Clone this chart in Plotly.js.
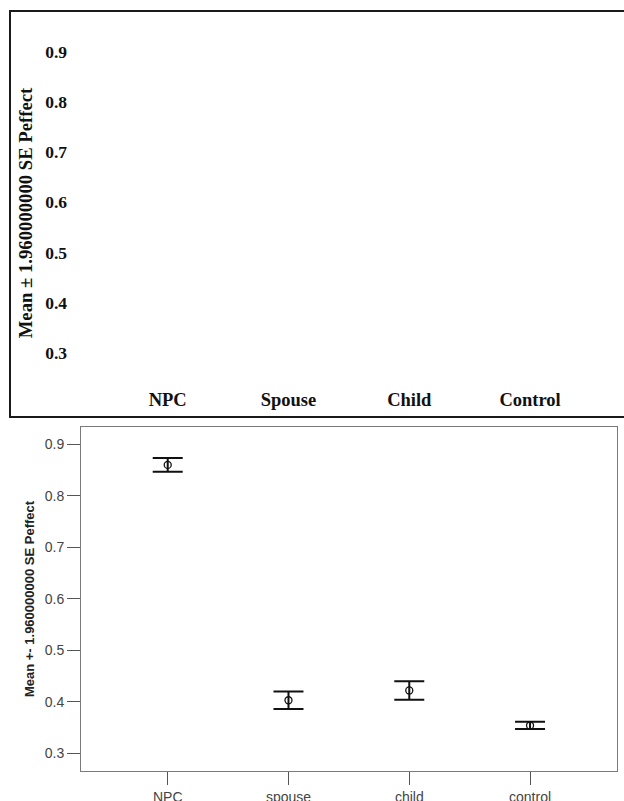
<!DOCTYPE html>
<html>
<head>
<meta charset="utf-8">
<script src="https://cdn.plot.ly/plotly-3.0.1.min.js"></script>
<style>html,body{margin:0;padding:0;background:#fff;}#chart{width:624px;height:801px;}</style>
</head>
<body>
<div id="chart"></div>
<script>
// Bottom chart data
const categories = ['NPC', 'spouse', 'child', 'control'];
const means = [0.860, 0.403, 0.422, 0.354];
const halfCI = [0.0135, 0.017, 0.018, 0.007];
const yTicks = [0.3, 0.4, 0.5, 0.6, 0.7, 0.8, 0.9];
const yTitleBottom = 'Mean +- 1.960000000 SE Peffect';

// Top (label-only) panel
const topCategories = ['NPC', 'Spouse', 'Child', 'Control'];
const topTickLabels = ['0.3', '0.4', '0.5', '0.6', '0.7', '0.8', '0.9'];
const yTitleTop = 'Mean \u00b1 1.960000000 SE Peffect';

const W = 624, H = 801;
const M = {l: 81, r: 7, t: 10, b: 30};
const plotH = H - M.t - M.b;
const plotW = W - M.l - M.r;
const py = p => (H - M.b - p) / plotH;   // pixel row -> paper y
const px = p => (p - M.l) / plotW;       // pixel col -> paper x

const serif = {family: 'Liberation Serif, Times New Roman, serif', color: '#111', weight: 'bold'};
const sans = {family: 'Liberation Sans, Arial, sans-serif', color: '#444'};

const trace = {
  type: 'scatter',
  mode: 'markers',
  x: categories,
  y: means,
  xaxis: 'x', yaxis: 'y',
  marker: {symbol: 'circle-open', size: 7, color: '#111', line: {width: 1.3, color: '#111'}},
  error_y: {type: 'data', array: halfCI, visible: true, color: '#111', thickness: 2, width: 15},
  showlegend: false,
  hoverinfo: 'skip'
};

// empty trace so the top (label-only) panel's axes get drawn
const topPanel = {
  type: 'scatter',
  mode: 'markers',
  x: topCategories.map((c, i) => i),
  y: topCategories.map(() => null),
  xaxis: 'x2', yaxis: 'y2',
  marker: {opacity: 0},
  showlegend: false,
  hoverinfo: 'skip'
};

const layout = {
  width: W, height: H,
  margin: M,
  paper_bgcolor: '#fff',
  plot_bgcolor: 'rgba(0,0,0,0)',
  showlegend: false,
  xaxis: {
    type: 'category',
    domain: [0, 1],
    anchor: 'y',
    range: [-0.718, 3.72],
    showgrid: false, zeroline: false,
    showline: true, mirror: true, linecolor: '#7a7a7a', linewidth: 1,
    ticks: 'outside', ticklen: 13, tickcolor: '#555', tickwidth: 1,
    tickfont: Object.assign({size: 14}, sans)
  },
  yaxis: {
    domain: [0, py(427)],
    anchor: 'x',
    range: [0.2656, 0.9336],
    tickvals: yTicks,
    tickformat: '.1f',
    showgrid: false, zeroline: false,
    showline: true, mirror: true, linecolor: '#7a7a7a', linewidth: 1,
    ticks: 'outside', ticklen: 13, tickcolor: '#555', tickwidth: 1,
    tickfont: Object.assign({size: 14}, sans),
    title: {text: yTitleBottom, font: {family: 'Liberation Sans, Arial, sans-serif', size: 13, color: '#222', weight: 'bold'}, standoff: 7}
  },
  xaxis2: {
    type: 'linear',
    anchor: 'y2',
    domain: [0, 1],
    range: [-0.718, 3.72],
    tickmode: 'array',
    tickvals: topCategories.map((c, i) => i),
    ticktext: topCategories,
    showgrid: false, zeroline: false, showline: false,
    ticks: '',
    ticklabelstandoff: 6,
    tickfont: Object.assign({size: 18.5}, serif)
  },
  yaxis2: {
    type: 'linear',
    anchor: 'x2',
    domain: [py(380), py(46)],
    range: [0.2462, 0.9114],
    tickmode: 'array',
    tickvals: yTicks,
    ticktext: topTickLabels,
    showgrid: false, zeroline: false, showline: false,
    ticks: '',
    ticklabelstandoff: 13,
    tickfont: Object.assign({size: 17.5}, serif),
    title: {text: yTitleTop, font: Object.assign({size: 18.7}, serif), standoff: 7}
  },
  shapes: [{
    type: 'rect', xref: 'paper', yref: 'paper',
    x0: px(10), x1: px(640), y0: py(417), y1: py(11),
    line: {color: '#1a1a1a', width: 2}, fillcolor: 'rgba(0,0,0,0)'
  }]
};

Plotly.newPlot('chart', [trace, topPanel], layout, {staticPlot: true, displayModeBar: false});
</script>
</body>
</html>
